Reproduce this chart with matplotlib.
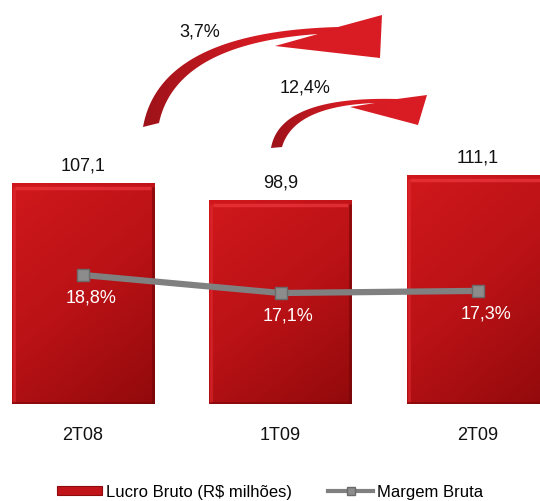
import numpy as np
import matplotlib.pyplot as plt
from matplotlib.patches import Polygon, Patch
from matplotlib.lines import Line2D
from matplotlib.colors import LinearSegmentedColormap

plt.rcParams['font.family'] = ['Liberation Sans', 'DejaVu Sans']

# dados do trimestre
periodos = ['2T08', '1T09', '2T09']
lucro_bruto = [107.1, 98.9, 111.1]
margem_bruta = [18.8, 17.1, 17.3]
variacoes = ['3,7%', '12,4%']

W, H = 540, 501


def fmt(v, casas=1):
    return f'{v:.{casas}f}'.replace('.', ',')


def bezier(p0, p1, p2, n=40):
    t = np.linspace(0, 1, n)[:, None]
    p0, p1, p2 = np.array(p0), np.array(p1), np.array(p2)
    return (1 - t) ** 2 * p0 + 2 * (1 - t) * t * p1 + t ** 2 * p2


def seta(fig, externo, interno, cabeca):
    # faixa curva + ponta, em pixels (y para baixo)
    pts = np.vstack([bezier(*externo), cabeca, bezier(*interno)[::-1]])
    pts[:, 1] = H - pts[:, 1]
    pts = pts / [W, H]
    poly = Polygon(pts, closed=True, transform=fig.transFigure,
                   facecolor='none', edgecolor='none')
    fig.add_artist(poly)
    x0, y0 = pts.min(axis=0)
    x1, y1 = pts.max(axis=0)
    cmap = LinearSegmentedColormap.from_list('s', ['#9E1219', '#D81C24', '#DA1C24'])
    grad = np.linspace(0, 1, 100)[None, :]
    ax_img = fig.add_axes([x0, y0, x1 - x0, y1 - y0], zorder=5)
    ax_img.axis('off')
    im = ax_img.imshow(grad, cmap=cmap, aspect='auto',
                       extent=[x0, x1, y0, y1], transform=fig.transFigure)
    im.set_clip_path(poly)


fig = plt.figure(figsize=(W / 100, H / 100), dpi=100)
ax = fig.add_axes([0, (H - 404) / H, 1, 404 / H])
x = np.arange(len(periodos))
ax.set_xlim(-83 / 197.5, 457 / 197.5)
ax.set_ylim(0, 404 / 2.06)

largura = 0.724
bars = ax.bar(x, lucro_bruto, width=largura, color='#C0141A', zorder=2)

# gradiente e bisel das barras (claro no alto à esquerda, escuro embaixo à direita)
cmap_bar = LinearSegmentedColormap.from_list('b', ['#D0181C', '#BA1216', '#920A0C'])
yy, xx = np.mgrid[0:1:100j, 0:1:100j]
grad = 0.35 * xx + 0.65 * yy
for b in bars:
    bx, by, bw, bh = b.get_x(), b.get_y(), b.get_width(), b.get_height()
    im = ax.imshow(grad, cmap=cmap_bar, aspect='auto', origin='upper',
                   extent=[bx, bx + bw, by, by + bh], zorder=2.1, vmin=0, vmax=1)
    im.set_clip_path(b)
    ax.plot([bx + 0.02, bx + bw - 0.02], [by + bh - 2.2, by + bh - 2.2],
            color='#E8343A', lw=2.5, alpha=0.8, zorder=2.2, solid_capstyle='butt')
    ax.plot([bx + 0.012, bx + 0.012], [by + 1, by + bh - 2],
            color='#E02A30', lw=2, alpha=0.6, zorder=2.2, solid_capstyle='butt')
    ax.plot([bx + bw - 0.01, bx + bw - 0.01], [by, by + bh - 2],
            color='#6E0507', lw=2, alpha=0.6, zorder=2.2, solid_capstyle='butt')
    ax.plot([bx + 0.005, bx + bw - 0.005], [by + 0.5, by + 0.5],
            color='#6E0507', lw=2, alpha=0.5, zorder=2.2, solid_capstyle='butt')
    ax.text(b.get_x() + bw / 2, bh + 8.5, fmt(b.get_height()),
            ha='center', va='center', fontsize=13, color='#111111')

ax.set_xticks([])
ax.set_yticks([])
for s in ax.spines.values():
    s.set_visible(False)
ax.patch.set_alpha(0)

# margem bruta no eixo secundário
ax2 = ax.twinx()
ax2.set_ylim(17.1 - 111 / 10.6, 17.1 + 293 / 10.6)
ax2.plot(x, margem_bruta, color='#808080', lw=4.5, zorder=3,
         marker='s', ms=8, mfc='#8C8C8C', mec='#6A6A6A', mew=1)
for xi, m in zip(x, margem_bruta):
    ax2.text(xi + 0.04, m - 2.2, fmt(m) + '%', ha='center', va='center',
             fontsize=13, color='white')
ax2.set_yticks([])
for s in ax2.spines.values():
    s.set_visible(False)

for xi, p in zip(x, periodos):
    fig.text((83 + 197.5 * xi) / W, 1 - 436 / H, p, ha='center', va='center',
             fontsize=13, color='#111111')

# setas de variação
seta(fig,
     [(143, 127), (160, 32), (338, 27)],
     [(159, 123), (176, 44), (318, 34)],
     [(382, 15), (380, 58), (275, 46)])
seta(fig,
     [(271, 148), (280, 96), (397, 99)],
     [(282, 147), (294, 106), (375, 103)],
     [(427, 95), (418, 125), (350, 107)])
fig.text(200 / W, 1 - 32 / H, variacoes[0], ha='center', va='center',
         fontsize=13, color='#111111')
fig.text(305 / W, 1 - 88 / H, variacoes[1], ha='center', va='center',
         fontsize=13, color='#111111')

handles = [Patch(facecolor='#C0141A', edgecolor='#8E0A0C', lw=0.8),
           Line2D([0], [0], color='#808080', lw=3, marker='s', ms=6,
                  mfc='#8C8C8C', mec='#6A6A6A')]
fig.legend(handles, ['Lucro Bruto (R$ milhões)', 'Margem Bruta'],
           loc='center', bbox_to_anchor=(0.5, 1 - 492 / H), ncol=2,
           frameon=False, fontsize=12, handlelength=2.7, handleheight=0.5,
           handletextpad=0.2, columnspacing=2.2)

fig.savefig('out.png', dpi=100)
